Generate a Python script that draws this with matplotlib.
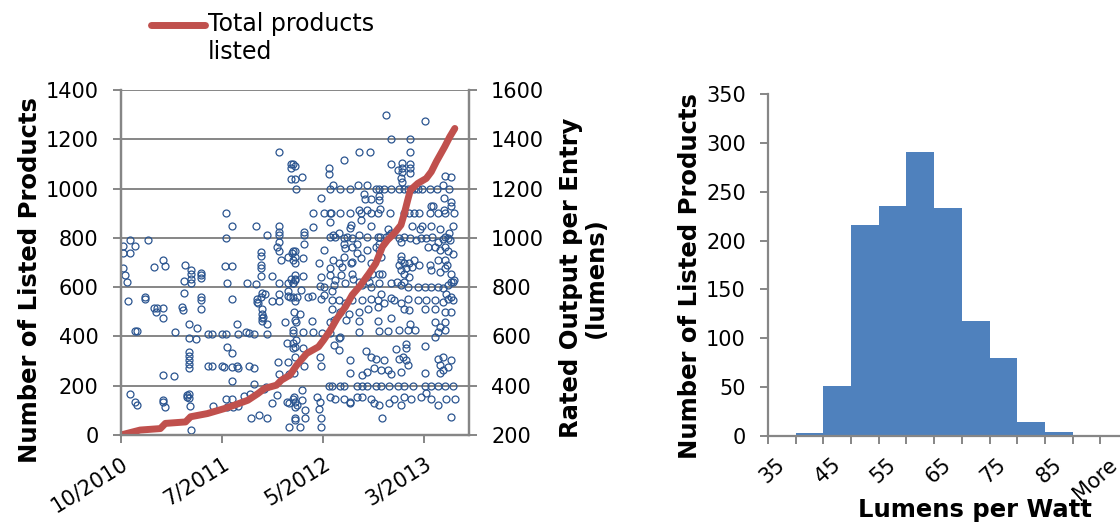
import pandas as pd
import matplotlib
matplotlib.use('Agg')
import matplotlib.pyplot as plt
from matplotlib.legend_handler import HandlerLine2D
from matplotlib.transforms import ScaledTranslation

plt.rcParams['font.family'] = ['DejaVu Sans']

# --- left chart: rated output of each listed entry and cumulative listings ---
start = pd.Timestamp('2010-10-01')
axis_days = 1034

# days after 10/1/2010 and rated output (lumens) of each entry
entry_days = [
    469, 505, 505, 512, 517, 505, 517, 519, 312, 330,
    402, 469, 434, 313, 469, 469, 469, 464, 469, 27,
    79, 5, 42, 5, 27, 497, 475, 512, 512, 125,
    132, 189, 98, 310, 330, 415, 415, 415, 415, 415,
    5, 11, 19, 207, 207, 207, 187, 207, 238, 238,
    238, 315, 375, 402, 450, 469, 497, 505, 512, 517,
    497, 187, 70, 72, 21, 238, 238, 330, 405, 405,
    407, 415, 420, 429, 448, 469, 469, 497, 512, 517,
    97, 107, 125, 105, 181, 185, 238, 125, 419, 419,
    419, 419, 422, 487, 517, 510, 42, 47, 160, 202,
    225, 345, 434, 259, 272, 299, 312, 347, 372, 380,
    395, 433, 202, 224, 494, 510, 517, 315, 330, 202,
    202, 202, 202, 202, 125, 159, 260, 272, 299, 307,
    330, 345, 349, 380, 394, 467, 497, 517, 469, 500,
    515, 330, 394, 27, 42, 47, 125, 125, 130, 195,
    202, 202, 197, 204, 273, 313, 330, 315, 334, 347,
    366, 382, 424, 430, 465, 449, 492, 500, 512, 517,
    518, 385, 409, 434, 500, 517, 207,
    789, 904, 801, 858, 706, 741, 858, 662, 802, 835,
    835, 835, 860, 860, 824, 860, 618, 618, 537, 832,
    835, 962, 982, 622, 630, 652, 682, 704, 732, 757,
    767, 782, 802, 827, 842, 852, 862, 872, 882, 894,
    917, 939, 957, 974, 593, 722, 724, 742, 767, 767,
    960, 982, 982, 572, 602, 620, 624, 650, 680, 712,
    742, 764, 800, 707, 732, 770, 842, 857, 872, 887,
    920, 927, 917, 942, 964, 990, 960, 622, 570, 544,
    544, 544, 684, 680, 742, 792, 712, 865, 894, 890,
    920, 947, 987, 974, 622, 630, 647, 637, 662, 672,
    687, 707, 732, 764, 770, 787, 797, 802, 832, 827,
    842, 860, 877, 892, 907, 924, 942, 957, 962, 972,
    516, 516, 516, 507, 542, 602, 662, 667, 687, 702,
    662, 687, 702, 712, 732, 744, 757, 767, 772, 767,
    587, 630, 647, 657, 684, 622, 832, 832, 827, 842,
    857, 847, 872, 887, 912, 932, 947, 964, 972, 977,
    987, 962, 970, 942, 917, 922, 947, 964, 980, 987,
    517, 517, 542, 510, 594, 620, 637, 654, 667, 632,
    602, 590, 687, 690, 707, 717, 732, 737, 747, 767,
    777, 767, 742, 802, 820, 832, 842, 852, 842, 857,
    864, 832, 882, 902, 922, 942, 957, 972, 982, 990,
    967, 980, 987, 502, 522, 534, 557, 567, 594, 627,
    627, 602, 647, 667, 687, 717, 742, 764, 772, 802,
    812, 832, 854, 882, 907, 934, 957, 972, 514, 532,
    520, 627, 652, 677, 707, 734, 764, 782, 842, 857,
    902, 932, 962, 980, 567, 622, 632, 670, 707, 764,
    802, 827, 860, 874, 932, 947, 962, 512, 542, 572,
    597, 622, 652, 707, 767, 792, 852, 934, 942, 962,
    520, 542, 512, 632, 647, 647, 902, 847, 847, 590,
    594, 682, 727, 742, 757, 782, 817, 827, 837, 847,
    854, 942, 957, 947, 957, 972, 982, 544, 680, 717,
    730, 752, 772, 794, 802, 832, 902, 947, 617, 627,
    652, 662, 702, 717, 732, 757, 772, 797, 822, 842,
    867, 902, 922, 942, 964, 987, 514, 537, 537, 522,
    547, 547, 532, 517, 582, 590, 587, 594, 594, 622,
    637, 662, 682, 702, 717, 742, 752, 767, 797, 812,
    832, 842, 862, 892, 907, 922, 942, 967, 992, 680,
    777, 982,
]
entry_lumens = [
    1350, 1300, 1285, 1300, 1290, 1240, 1237, 1200, 1100, 1050,
    1050, 1050, 1010, 1000, 1025, 1011, 984, 964, 947, 990,
    990, 966, 966, 937, 937, 923, 912, 947, 912, 910,
    887, 889, 882, 887, 887, 943, 926, 889, 876, 846,
    876, 849, 819, 869, 855, 835, 824, 818, 858, 849,
    839, 818, 818, 812, 845, 818, 818, 835, 818, 835,
    784, 778, 761, 750, 742, 758, 747, 750, 750, 740,
    734, 761, 777, 774, 742, 774, 743, 763, 761, 743,
    717, 717, 717, 700, 720, 709, 711, 673, 712, 693,
    673, 662, 680, 659, 666, 628, 620, 620, 617, 650,
    634, 650, 650, 609, 609, 609, 609, 608, 617, 612,
    608, 608, 594, 590, 575, 574, 558, 558, 531, 535,
    520, 504, 487, 473, 443, 439, 479, 479, 479, 477,
    477, 479, 473, 479, 473, 497, 497, 515, 447, 447,
    450, 420, 406, 366, 332, 321, 341, 333, 314, 361,
    368, 351, 355, 317, 318, 348, 348, 314, 314, 317,
    358, 368, 385, 393, 364, 330, 335, 328, 348, 335,
    314, 267, 280, 267, 233, 267, 220,
    1500, 1474, 1400, 1400, 1350, 1350, 1350, 1314, 1299, 1302,
    1282, 1268, 1299, 1282, 1275, 1264, 1282, 1261, 1248, 1241,
    1228, 1250, 1248, 1200, 1214, 1200, 1200, 1214, 1214, 1200,
    1200, 1200, 1200, 1200, 1200, 1200, 1200, 1200, 1200, 1200,
    1200, 1200, 1214, 1200, 1163, 1180, 1156, 1156, 1169, 1153,
    1160, 1146, 1129, 1100, 1100, 1100, 1100, 1100, 1100, 1100,
    1100, 1100, 1100, 1115, 1115, 1119, 1100, 1100, 1100, 1100,
    1129, 1129, 1100, 1100, 1100, 1100, 1115, 1065, 1045, 1025,
    1011, 977, 1052, 1038, 1048, 1034, 1072, 1048, 1048, 1034,
    1048, 1034, 1048, 1018, 1004, 1011, 1020, 1004, 998, 1004,
    1001, 1011, 1004, 1004, 1004, 1004, 1011, 1020, 984, 998,
    1004, 998, 991, 1001, 998, 1004, 984, 994, 1004, 1001,
    947, 923, 896, 939, 920, 950, 977, 957, 964, 975,
    923, 903, 937, 920, 950, 896, 964, 950, 923, 977,
    899, 910, 896, 882, 899, 876, 926, 910, 889, 896,
    896, 876, 910, 889, 964, 964, 950, 964, 947, 991,
    934, 910, 889, 910, 889, 869, 862, 876, 855, 821,
    849, 828, 845, 818, 842, 851, 828, 849, 818, 808,
    799, 804, 855, 835, 822, 808, 842, 822, 855, 855,
    855, 815, 801, 818, 822, 808, 822, 801, 855, 842,
    883, 869, 801, 801, 801, 801, 795, 808, 822, 828,
    774, 758, 747, 761, 761, 788, 761, 763, 750, 747,
    785, 768, 747, 734, 747, 747, 750, 747, 774, 754,
    747, 734, 750, 747, 747, 747, 740, 750, 700, 693,
    659, 713, 700, 693, 700, 713, 720, 734, 713, 707,
    713, 713, 700, 700, 663, 659, 666, 666, 663, 663,
    673, 625, 652, 625, 659, 639, 659, 614, 619, 617,
    614, 614, 598, 619, 621, 621, 625, 598, 619, 625,
    585, 551, 551, 565, 544, 592, 561, 571, 551, 517,
    479, 504, 542, 517, 510, 504, 547, 510, 517, 504,
    483, 510, 517, 483, 463, 477, 504, 479, 450, 443,
    456, 470, 463, 463, 447, 456, 450, 452, 400, 400,
    400, 400, 400, 400, 400, 400, 400, 400, 400, 400,
    400, 400, 400, 400, 400, 400, 355, 382, 341, 321,
    301, 267, 233, 260, 355, 335, 307, 267, 233, 355,
    348, 348, 335, 355, 355, 348, 328, 321, 328, 348,
    321, 355, 348, 355, 369, 348, 321, 348, 348, 328,
    267, 274,
]

# cumulative number of listed products
total_days = [0, 57, 117, 132, 192, 207, 257, 307, 337, 377, 407, 427, 462, 477,
              502, 522, 552, 587, 602, 622, 642, 667, 687, 712, 737, 757, 777,
              792, 812, 832, 842, 852, 860, 882, 907, 922, 937, 962, 977, 992]
total_listed = [0, 20, 26, 47, 53, 74, 87, 107, 121, 141, 168, 189, 202, 223,
                243, 283, 331, 358, 385, 425, 473, 520, 568, 608, 655, 696, 764,
                791, 818, 852, 899, 953, 994, 1021, 1041, 1068, 1109, 1170, 1210, 1244]

date_tick_days = [0, 300, 600, 900]
date_tick_labels = ['10/2010', '7/2011', '5/2012', '3/2013']

# --- right chart: histogram of efficacy ---
bin_labels = ['35', '40', '45', '50', '55', '60', '65', '70', '75', '80', '85', '90', 'More']
bin_counts = [0, 3, 51, 216, 235, 291, 233, 117, 80, 14, 4, 0, 0]

grey = '#868686'
tick_size = 15
label_size = 17.5
legend_size = 17


class FirstLineHandler(HandlerLine2D):
    """Legend line drawn level with the first line of a two-line label."""
    def create_artists(self, legend, orig_handle, xdescent, ydescent,
                       width, height, fontsize, trans):
        return super().create_artists(legend, orig_handle, xdescent,
                                      ydescent - 1.2 * fontsize, width, height,
                                      fontsize, trans)


fig = plt.figure(figsize=(11.2, 5.27), dpi=100)

ax = fig.add_axes([0.108, 0.1746, 0.3107, 0.6546])
ax2 = ax.twinx()

entry_dates = start + pd.to_timedelta(entry_days, unit='D')
total_dates = start + pd.to_timedelta(total_days, unit='D')

ax2.plot(entry_dates, entry_lumens, 'o', ms=5.0, mfc='none', mec='#2B5590', mew=0.9)
line, = ax.plot(total_dates, total_listed, color='#C0504D', lw=5.0,
                solid_capstyle='round', label='Total products\nlisted')

# cumulative line sits on top of the scatter
ax.set_zorder(ax2.get_zorder() + 1)
ax.patch.set_visible(False)

ax.set_xlim(start, start + pd.Timedelta(days=axis_days))
ax.set_ylim(0, 1400)
ax.set_yticks(range(0, 1401, 200))
ax2.set_ylim(200, 1600)
ax2.set_yticks(range(200, 1601, 200))
ax2.yaxis.grid(True, color=grey, lw=1.4)
ax2.set_axisbelow(True)

ax.set_xticks(start + pd.to_timedelta(date_tick_days, unit='D'))
ax.set_xticklabels(date_tick_labels, rotation=32, ha='right', rotation_mode='anchor')

for a in (ax, ax2):
    for s in a.spines.values():
        s.set_color(grey)
        s.set_linewidth(1.6)
    a.spines['top'].set_visible(False)
    a.tick_params(direction='out', length=6, width=1.4, color=grey,
                  labelsize=tick_size, pad=10)
ax.tick_params(axis='x', pad=7)

fig.text(30 / 1120, 1 - 280 / 527, 'Number of Listed Products', rotation=90,
         ha='center', va='center', fontsize=label_size, fontweight='bold')
fig.text(583 / 1120, 1 - 278 / 527, 'Rated Output per Entry\n(lumens)', rotation=90,
         ha='center', va='center', fontsize=label_size, fontweight='bold',
         multialignment='center', linespacing=1.05)

fig.legend(handles=[line], loc='upper left', bbox_to_anchor=(151 / 1120, 1 - 12 / 527),
           frameon=False, fontsize=legend_size, handlelength=2.3, handletextpad=0.12,
           borderpad=0, borderaxespad=0, labelspacing=0,
           handler_map={line: FirstLineHandler()})

# histogram
hx = fig.add_axes([0.6857, 0.1736, 0.3214, 0.6474])
positions = list(range(len(bin_labels)))
hx.bar(positions, bin_counts, width=1.0, color='#4F81BD', edgecolor='none')
hx.set_xlim(-0.5, len(bin_labels) - 0.5)
hx.set_ylim(0, 350)
hx.set_yticks(range(0, 351, 50))
hx.set_xticks(positions[::2])
hx.set_xticklabels(bin_labels[::2], rotation=42, ha='right', va='center',
                   rotation_mode='anchor')
shift = ScaledTranslation(-4 / 72, 0, fig.dpi_scale_trans)
for lbl in hx.get_xticklabels():
    lbl.set_transform(lbl.get_transform() + shift)
hx.set_xticks([p - 0.5 for p in positions] + [len(bin_labels) - 0.5], minor=True)
hx.tick_params(axis='x', which='major', length=0, pad=19)
hx.tick_params(axis='x', which='minor', direction='out', length=6, width=1.4, color=grey)
hx.tick_params(axis='y', direction='out', length=6, width=1.4, color=grey, pad=10)
hx.tick_params(labelsize=tick_size)
for s in ('top', 'right'):
    hx.spines[s].set_visible(False)
for s in ('left', 'bottom'):
    hx.spines[s].set_color(grey)
    hx.spines[s].set_linewidth(1.6)

fig.text(690 / 1120, 1 - 276 / 527, 'Number of Listed Products', rotation=90,
         ha='center', va='center', fontsize=label_size, fontweight='bold')
fig.text(975 / 1120, 1 - 510 / 527, 'Lumens per Watt', ha='center', va='center',
         fontsize=label_size, fontweight='bold')

fig.savefig('out.png', dpi=100)
